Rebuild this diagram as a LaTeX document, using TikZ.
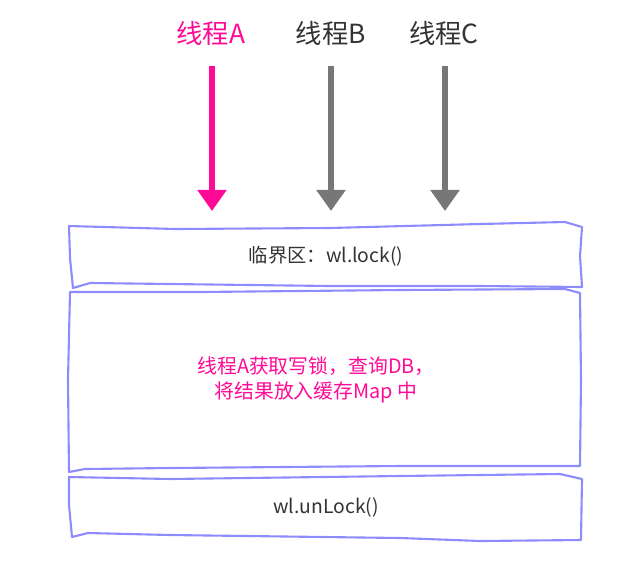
\documentclass[tikz,border=0pt]{standalone}
\usepackage{fontspec}
\usepackage{tikz}
\usetikzlibrary{arrows.meta}
\setmainfont{Noto Sans CJK SC}
\definecolor{pinkA}{HTML}{FF0A96}
\definecolor{grayT}{HTML}{777777}
\definecolor{lav}{HTML}{8C8CFF}
\definecolor{ink}{HTML}{333333}
\def\dbox{\draw[lav,line width=1.2pt,line join=round]}
\tikzset{
  thread/.style={font=\fontsize{15}{17}\selectfont,inner sep=1pt},
  say/.style={font=\fontsize{11}{14}\selectfont,text=ink,align=center},
  flow/.style={line width=3pt,shorten <=3.8mm,-{Triangle[width=16pt,length=12pt]}}
}

\begin{document}
\begin{tikzpicture}[x=0.02cm,y=-0.02cm]
                \useasboundingbox (0,0) rectangle (632,562);
                % threads
                \node[thread,text=pinkA] (tA) at (211,33) {线程A};
                \node[thread,text=ink]   (tB) at (331,33) {线程B};
                \node[thread,text=ink]   (tC) at (444,33) {线程C};
                \coordinate (eA) at (212,211);
                \coordinate (eB) at (331,211);
                \coordinate (eC) at (445,211);
                \draw[flow,pinkA,line width=3.4pt] (tA.south -| eA) -- (eA);
                \draw[flow,grayT] (tB.south -| eB) -- (eB);
                \draw[flow,grayT] (tC.south -| eC) -- (eC);
                % boxes
                \dbox (69,226) -- (175,229) -- (330,228) -- (480,224) -- (565,222) -- (582,227) -- (580,256) -- (582,287) -- (480,286) -- (330,286) -- (90,283) -- (73,288) -- (70,258) -- cycle;
                \dbox (70,292) -- (200,292) -- (400,290) -- (565,289) -- (580,293) -- (581,380) -- (580,466) -- (400,466) -- (170,468) -- (85,469) -- (69,472) -- (68,380) -- cycle;
                \dbox (69,477) -- (170,479) -- (400,476) -- (560,474) -- (582,479) -- (581,540) -- (480,541) -- (400,538) -- (170,535) -- (88,533) -- (72,537) -- (69,505) -- cycle;
                \node[say] (lock) at (326,256) {临界区：wl.lock()};
                \node[say,text=pinkA,font=\fontsize{11.3}{14.5}\selectfont] (work) at (316,380) {线程A获取写锁，查询DB，\\ 将结果放入缓存Map 中};
                \node[say] (unlock) at (326,507) {wl.unLock()};
\end{tikzpicture}
\end{document}
